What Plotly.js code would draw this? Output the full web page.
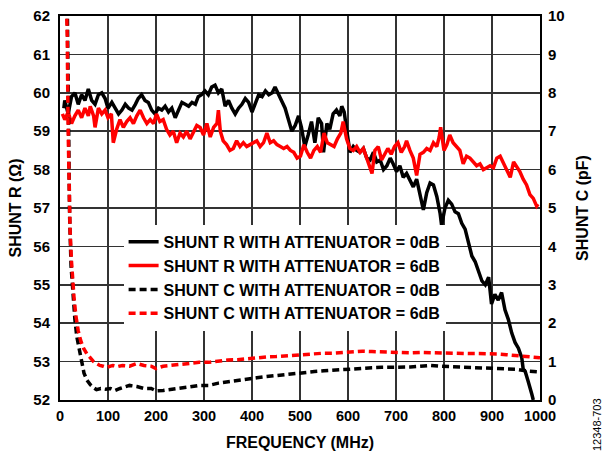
<!DOCTYPE html>
<html>
<head>
<meta charset="utf-8">
<script src="https://cdn.plot.ly/plotly-3.0.1.min.js"></script>
<style>html,body{margin:0;padding:0;background:#fff;}#chart{width:602px;height:452px;}</style>
</head>
<body>
<div id="chart"></div>
<script>
// SHUNT R, attenuator = 0dB
const freqR0 = [8,10,17,24,31,38,45,52,59,66,73,80,87,94,100,108,115,122,129,136,143,150,157,163,170,177,184,191,198,205,212,219,226,233,240,247,254,261,268,275,282,288,295,302,309,316,323,330,337,344,351,358,365,372,379,386,393,400,407,414,421,428,435,442,448,455,462,469,476,483,490,497,503,510,517,524,531,538,545,549,556,562,569,576,583,587,592,597,604,611,618,625,632,639,646,653,660,667,674,681,688,694,701,708,715,722,729,736,743,750,757,764,771,778,785,792,795,802,809,816,823,830,837,844,851,858,865,872,879,886,893,899,906,913,920,927,934,941,948,955,962,965,969,975,979,983,986];
const shuntR0 = [59.6,59.8,59.45,59.9,60.0,59.7,59.95,59.8,60.1,59.8,59.7,59.95,60.0,59.85,59.6,59.75,59.6,59.45,59.55,59.7,59.6,59.55,59.7,59.85,59.95,59.8,59.75,59.55,59.45,59.6,59.55,59.65,59.5,59.6,59.35,59.55,59.75,59.7,59.65,59.75,59.7,59.9,59.95,60.05,59.95,60.15,60.2,60.0,60.1,59.65,59.8,59.6,59.45,59.6,59.7,59.85,59.75,59.5,59.75,59.95,59.9,60.05,59.95,60.0,60.15,59.95,59.8,59.6,59.3,59.0,59.15,59.4,59.1,58.6,58.9,59.25,58.7,59.35,59.2,58.45,59.2,59.05,59.45,59.55,59.4,59.65,59.5,59.1,58.45,58.6,58.5,58.45,58.55,58.3,58.25,58.45,58.2,58.25,58.0,58.1,58.3,58.15,57.95,58.1,57.8,57.9,57.7,57.55,57.75,57.3,56.95,57.4,57.65,57.6,57.3,56.85,56.55,57.0,57.2,57.1,56.9,56.85,56.6,56.45,56.1,55.75,55.6,55.35,55.1,55.0,55.2,54.5,54.75,54.6,54.8,54.35,54.1,53.75,53.5,53.35,53.1,52.8,52.75,52.5,52.35,52.15,52.0];

// SHUNT R, attenuator = 6dB
const freqR6 = [5,10,17,24,31,38,45,52,59,63,70,73,80,87,94,100,107,111,118,125,132,139,146,153,160,167,174,181,188,195,201,208,215,222,229,236,243,250,257,264,271,278,285,292,299,306,313,320,327,330,334,340,347,354,361,368,375,382,389,396,403,410,417,424,431,438,445,452,459,466,473,480,487,494,501,508,515,522,529,536,543,550,557,564,571,578,585,590,597,604,611,618,625,632,639,646,650,656,663,670,677,683,690,697,704,711,718,722,729,736,743,750,757,764,771,778,785,790,793,797,800,806,812,819,826,833,840,847,854,861,868,875,882,889,896,903,910,917,924,931,938,945,951,958,965,972,979,986,993,996];
const shuntR6 = [59.45,59.3,59.5,59.2,59.4,59.55,59.35,59.6,59.4,59.65,59.4,59.1,59.6,59.45,59.55,59.35,59.45,58.7,59.05,59.3,59.1,59.25,59.35,59.2,59.4,59.55,59.35,59.2,59.3,59.2,59.45,59.25,59.3,59.05,58.9,59.0,58.7,58.95,58.85,59.0,58.8,59.0,59.15,59.1,58.9,59.2,58.85,59.1,59.2,59.55,59.0,58.75,58.65,58.5,58.55,58.75,58.6,58.7,58.6,58.65,58.7,58.75,58.6,58.7,58.95,58.7,58.75,58.65,58.6,58.55,58.6,58.5,58.45,58.3,58.35,58.65,58.45,58.3,58.5,58.6,58.45,58.95,58.7,58.65,58.6,58.8,58.95,59.25,58.8,58.55,58.5,58.6,58.45,58.55,58.3,58.0,57.9,58.5,58.6,58.25,58.4,58.55,58.4,58.6,58.7,58.45,58.6,58.75,58.5,58.3,57.85,58.4,58.45,58.55,58.5,58.7,58.6,58.85,59.1,58.7,58.5,58.65,58.9,58.7,58.6,58.5,58.15,58.35,58.3,58.2,58.1,58.15,58.0,58.05,58.1,58.05,58.3,58.35,58.15,58.0,57.8,58.2,58.1,57.95,57.75,57.6,57.35,57.25,57.05,57.1];

// SHUNT C, attenuator = 0dB
const freqC0 = [15,17,20,23,27,31,35,40,45,50,56,63,70,76,85,95,105,115,125,135,145,160,175,190,200,215,230,250,270,290,310,330,350,370,390,410,430,450,470,490,510,530,550,570,590,610,630,650,670,690,710,730,750,770,790,810,830,850,870,890,910,930,950,970,990,1000];
const shuntC0 = [10.5,7.0,4.8,3.5,2.6,2.1,1.65,1.3,0.95,0.7,0.52,0.4,0.32,0.27,0.3,0.28,0.3,0.25,0.3,0.35,0.38,0.35,0.3,0.3,0.24,0.25,0.27,0.3,0.34,0.38,0.38,0.44,0.48,0.5,0.55,0.58,0.61,0.64,0.67,0.7,0.72,0.74,0.76,0.78,0.79,0.8,0.82,0.84,0.85,0.85,0.86,0.86,0.88,0.9,0.88,0.87,0.87,0.86,0.86,0.85,0.84,0.82,0.8,0.76,0.74,0.73];

// SHUNT C, attenuator = 6dB
const freqC6 = [13,15,17,19,21,24,27,29,33,38,43,49,56,63,70,76,83,90,97,110,120,130,145,160,175,190,200,215,230,250,270,290,310,330,350,370,390,410,430,450,470,490,510,530,550,570,590,610,630,650,670,690,710,730,750,770,790,810,830,850,870,890,910,930,950,970,990,1000];
const shuntC6 = [10.5,9.5,7.0,5.2,4.4,3.6,3.0,2.7,2.2,1.8,1.55,1.35,1.2,1.1,1.0,0.95,0.9,0.88,0.85,0.9,0.87,0.9,0.88,0.95,0.9,0.88,0.82,0.88,0.9,0.93,0.96,0.98,0.98,1.02,1.04,1.05,1.08,1.1,1.12,1.13,1.15,1.17,1.18,1.2,1.22,1.22,1.24,1.26,1.27,1.26,1.25,1.24,1.24,1.23,1.24,1.23,1.24,1.22,1.22,1.21,1.21,1.21,1.2,1.18,1.16,1.13,1.12,1.1];

const legendNames = ['SHUNT R WITH ATTENUATOR = 0dB','SHUNT R WITH ATTENUATOR = 6dB','SHUNT C WITH ATTENUATOR = 0dB','SHUNT C WITH ATTENUATOR = 6dB'];

const FONT = 'Arial, "Liberation Sans", sans-serif';
const traces = [
  {x: freqR0, y: shuntR0, name: legendNames[0], type: 'scatter', mode: 'lines', line: {color: '#000000', width: 3.5}},
  {x: freqR6, y: shuntR6, name: legendNames[1], type: 'scatter', mode: 'lines', line: {color: '#ff0000', width: 3.5}},
  {x: freqC0, y: shuntC0, name: legendNames[2], type: 'scatter', mode: 'lines', yaxis: 'y2', line: {color: '#000000', width: 3.5, dash: '7px,4px'}},
  {x: freqC6, y: shuntC6, name: legendNames[3], type: 'scatter', mode: 'lines', yaxis: 'y2', line: {color: '#ff0000', width: 3.5, dash: '7px,4px'}}
];

const layout = {
  width: 602, height: 452,
  margin: {l: 60, r: 62, t: 16, b: 52},
  paper_bgcolor: '#ffffff', plot_bgcolor: '#ffffff',
  font: {family: FONT, size: 15, color: '#000', weight: 700},
  showlegend: true,
  legend: {x: 0.1325, y: 0.456, xanchor: 'left', yanchor: 'top', bgcolor: 'rgba(255,255,255,1)', borderwidth: 0,
           font: {family: FONT, size: 16, color: '#000', weight: 700}, tracegroupgap: 0},
  xaxis: {range: [0, 1000], dtick: 100, tick0: 0, showgrid: true, gridcolor: '#333', gridwidth: 1.5,
          zeroline: false, showline: true, linecolor: '#000', linewidth: 2, mirror: true, ticks: '',
          ticklabelstandoff: 2,
          tickfont: {family: FONT, size: 14.5, weight: 700},
          title: {text: 'FREQUENCY (MHz)', font: {family: FONT, size: 16, weight: 700}, standoff: 13}},
  yaxis: {range: [52, 62], dtick: 1, tick0: 52, showgrid: true, gridcolor: '#333', gridwidth: 1.5,
          zeroline: false, showline: true, linecolor: '#000', linewidth: 2, mirror: true, ticks: '',
          ticklabelstandoff: 5,
          tickfont: {family: FONT, size: 15, weight: 700},
          title: {text: 'SHUNT R (Ω)', font: {family: FONT, size: 16, weight: 700}, standoff: 8}},
  yaxis2: {range: [0, 10], dtick: 1, tick0: 0, overlaying: 'y', side: 'right', showgrid: false,
           zeroline: false, showline: false, ticks: '', ticklabelstandoff: 7,
           tickfont: {family: FONT, size: 15, weight: 700},
           title: {text: 'SHUNT C (pF)', font: {family: FONT, size: 16, weight: 700}, standoff: 13}},
  shapes: [{type: 'rect', xref: 'paper', yref: 'paper', x0: 0.0833, x1: 0.8167, y0: 0.185, y1: 0.4375,
            fillcolor: '#ffffff', line: {width: 0}, layer: 'between'}],
  annotations: [{text: '12348-703', xref: 'paper', yref: 'paper', x: 1.119, y: -0.065, xanchor: 'center', yanchor: 'middle',
                 textangle: -90, showarrow: false, font: {family: FONT, size: 11, weight: 400, color: '#000'}}]
};

Plotly.newPlot('chart', traces, layout, {displayModeBar: false, staticPlot: true});
</script>
</body>
</html>
